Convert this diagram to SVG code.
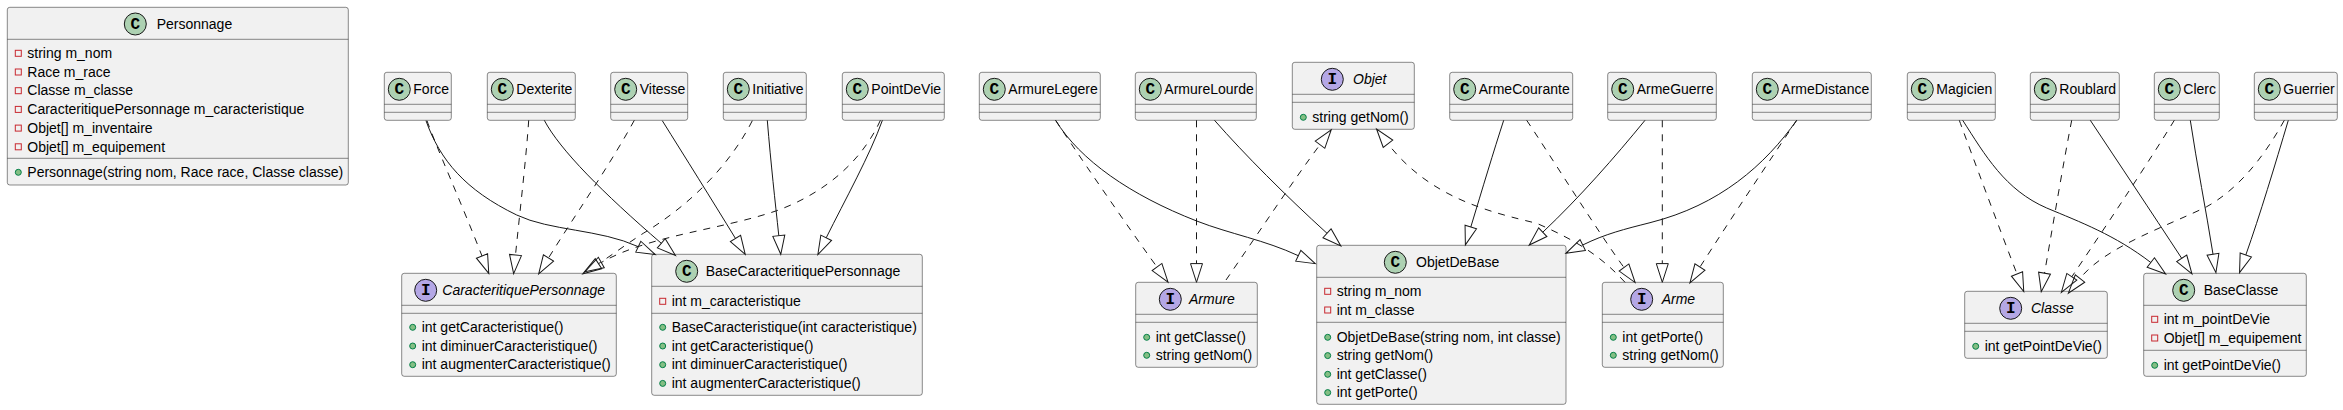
<svg xmlns="http://www.w3.org/2000/svg" width="2343" height="410" viewBox="0 0 2343 410">
<style>
text{font-family:"Liberation Sans",Arial,sans-serif;font-size:14px;fill:#000}
.i{font-style:italic}
.b{fill:#F1F1F1;stroke:#181818;stroke-width:.5}
.d{stroke:#181818;stroke-width:.5}
.cs{fill:#ADD1B2;stroke:#181818;stroke-width:1}
.is{fill:#B4A7E5;stroke:#181818;stroke-width:1}
text.s{font-family:"Liberation Mono",monospace;font-weight:bold;font-size:16px;text-anchor:middle}
.pr{fill:none;stroke:#C82930;stroke-width:1}
.pu{fill:#84BE84;stroke:#038048;stroke-width:1}
.l{fill:none;stroke:#181818;stroke-width:1;marker-end:url(#h)}
.da{stroke-dasharray:7 7}
</style>
<defs>
<marker id="h" markerUnits="userSpaceOnUse" markerWidth="22" markerHeight="16" refX="1" refY="8" orient="auto">
<polygon points="1,2 19.7,8 1,14" fill="none" stroke="#181818" stroke-width="1"/>
</marker>
</defs>
<g id="Personnage"><rect class="b" x="7.3" y="7.3" width="341" height="177.7" rx="2.5"/><line class="d" x1="7.3" y1="39.3" x2="348.3" y2="39.3"/><line class="d" x1="7.3" y1="158.3" x2="348.3" y2="158.3"/><circle class="cs" cx="135.3" cy="24" r="11"/><text class="s" x="135.3" y="29">C</text><text x="156.7" y="29">Personnage</text>
<rect class="pr" x="15.3" y="50.3" width="6" height="6"/><text x="27.3" y="58">string m_nom</text>
<rect class="pr" x="15.3" y="69" width="6" height="6"/><text x="27.3" y="76.7">Race m_race</text>
<rect class="pr" x="15.3" y="87.7" width="6" height="6"/><text x="27.3" y="95.4">Classe m_classe</text>
<rect class="pr" x="15.3" y="106.4" width="6" height="6"/><text x="27.3" y="114.1">CaracteritiquePersonnage m_caracteristique</text>
<rect class="pr" x="15.3" y="125.1" width="6" height="6"/><text x="27.3" y="132.8">Objet[] m_inventaire</text>
<rect class="pr" x="15.3" y="143.8" width="6" height="6"/><text x="27.3" y="151.5">Objet[] m_equipement</text>
<circle class="pu" cx="18.3" cy="172.3" r="3"/><text x="27.3" y="177">Personnage(string nom, Race race, Classe classe)</text></g>
<g id="Force"><rect class="b" x="384.3" y="72.3" width="67" height="48" rx="2.5"/><line class="d" x1="384.3" y1="104.3" x2="451.3" y2="104.3"/><line class="d" x1="384.3" y1="112.3" x2="451.3" y2="112.3"/><circle class="cs" cx="399.3" cy="89.3" r="11"/><text class="s" x="399.3" y="94.3">C</text><text x="413.3" y="94">Force</text></g>
<g id="Dexterite"><rect class="b" x="487.3" y="72.3" width="88" height="48" rx="2.5"/><line class="d" x1="487.3" y1="104.3" x2="575.3" y2="104.3"/><line class="d" x1="487.3" y1="112.3" x2="575.3" y2="112.3"/><circle class="cs" cx="502.3" cy="89.3" r="11"/><text class="s" x="502.3" y="94.3">C</text><text x="516.3" y="94">Dexterite</text></g>
<g id="Vitesse"><rect class="b" x="610.7" y="72.3" width="77" height="48" rx="2.5"/><line class="d" x1="610.7" y1="104.3" x2="687.7" y2="104.3"/><line class="d" x1="610.7" y1="112.3" x2="687.7" y2="112.3"/><circle class="cs" cx="625.7" cy="89.3" r="11"/><text class="s" x="625.7" y="94.3">C</text><text x="639.7" y="94">Vitesse</text></g>
<g id="Initiative"><rect class="b" x="723.3" y="72.3" width="83" height="48" rx="2.5"/><line class="d" x1="723.3" y1="104.3" x2="806.3" y2="104.3"/><line class="d" x1="723.3" y1="112.3" x2="806.3" y2="112.3"/><circle class="cs" cx="738.3" cy="89.3" r="11"/><text class="s" x="738.3" y="94.3">C</text><text x="752.3" y="94">Initiative</text></g>
<g id="PointDeVie"><rect class="b" x="842.3" y="72.3" width="102" height="48" rx="2.5"/><line class="d" x1="842.3" y1="104.3" x2="944.3" y2="104.3"/><line class="d" x1="842.3" y1="112.3" x2="944.3" y2="112.3"/><circle class="cs" cx="857.3" cy="89.3" r="11"/><text class="s" x="857.3" y="94.3">C</text><text x="871.3" y="94">PointDeVie</text></g>
<g id="ArmureLegere"><rect class="b" x="979.3" y="72.3" width="121" height="48" rx="2.5"/><line class="d" x1="979.3" y1="104.3" x2="1100.3" y2="104.3"/><line class="d" x1="979.3" y1="112.3" x2="1100.3" y2="112.3"/><circle class="cs" cx="994.3" cy="89.3" r="11"/><text class="s" x="994.3" y="94.3">C</text><text x="1008.3" y="94">ArmureLegere</text></g>
<g id="ArmureLourde"><rect class="b" x="1135.3" y="72.3" width="121" height="48" rx="2.5"/><line class="d" x1="1135.3" y1="104.3" x2="1256.3" y2="104.3"/><line class="d" x1="1135.3" y1="112.3" x2="1256.3" y2="112.3"/><circle class="cs" cx="1150.3" cy="89.3" r="11"/><text class="s" x="1150.3" y="94.3">C</text><text x="1164.3" y="94">ArmureLourde</text></g>
<g id="Objet"><rect class="b" x="1292.3" y="62.3" width="122" height="67" rx="2.5"/><line class="d" x1="1292.3" y1="94.3" x2="1414.3" y2="94.3"/><line class="d" x1="1292.3" y1="102.3" x2="1414.3" y2="102.3"/><circle class="is" cx="1332.3" cy="79.3" r="11"/><text class="s" x="1332.3" y="84.3">I</text><text class="i" x="1353" y="84">Objet</text><circle class="pu" cx="1303.3" cy="117.3" r="3"/><text x="1312.3" y="122">string getNom()</text></g>
<g id="ArmeCourante"><rect class="b" x="1449.7" y="72.3" width="123" height="48" rx="2.5"/><line class="d" x1="1449.7" y1="104.3" x2="1572.7" y2="104.3"/><line class="d" x1="1449.7" y1="112.3" x2="1572.7" y2="112.3"/><circle class="cs" cx="1464.7" cy="89.3" r="11"/><text class="s" x="1464.7" y="94.3">C</text><text x="1478.7" y="94">ArmeCourante</text></g>
<g id="ArmeGuerre"><rect class="b" x="1607.7" y="72.3" width="108.6" height="48" rx="2.5"/><line class="d" x1="1607.7" y1="104.3" x2="1716.3" y2="104.3"/><line class="d" x1="1607.7" y1="112.3" x2="1716.3" y2="112.3"/><circle class="cs" cx="1622.7" cy="89.3" r="11"/><text class="s" x="1622.7" y="94.3">C</text><text x="1636.7" y="94">ArmeGuerre</text></g>
<g id="ArmeDistance"><rect class="b" x="1752.3" y="72.3" width="119" height="48" rx="2.5"/><line class="d" x1="1752.3" y1="104.3" x2="1871.3" y2="104.3"/><line class="d" x1="1752.3" y1="112.3" x2="1871.3" y2="112.3"/><circle class="cs" cx="1767.3" cy="89.3" r="11"/><text class="s" x="1767.3" y="94.3">C</text><text x="1781.3" y="94">ArmeDistance</text></g>
<g id="Magicien"><rect class="b" x="1907.3" y="72.3" width="88" height="48" rx="2.5"/><line class="d" x1="1907.3" y1="104.3" x2="1995.3" y2="104.3"/><line class="d" x1="1907.3" y1="112.3" x2="1995.3" y2="112.3"/><circle class="cs" cx="1922.3" cy="89.3" r="11"/><text class="s" x="1922.3" y="94.3">C</text><text x="1936.3" y="94">Magicien</text></g>
<g id="Roublard"><rect class="b" x="2030.3" y="72.3" width="89" height="48" rx="2.5"/><line class="d" x1="2030.3" y1="104.3" x2="2119.3" y2="104.3"/><line class="d" x1="2030.3" y1="112.3" x2="2119.3" y2="112.3"/><circle class="cs" cx="2045.3" cy="89.3" r="11"/><text class="s" x="2045.3" y="94.3">C</text><text x="2059.3" y="94">Roublard</text></g>
<g id="Clerc"><rect class="b" x="2154.3" y="72.3" width="65" height="48" rx="2.5"/><line class="d" x1="2154.3" y1="104.3" x2="2219.3" y2="104.3"/><line class="d" x1="2154.3" y1="112.3" x2="2219.3" y2="112.3"/><circle class="cs" cx="2169.3" cy="89.3" r="11"/><text class="s" x="2169.3" y="94.3">C</text><text x="2183.3" y="94">Clerc</text></g>
<g id="Guerrier"><rect class="b" x="2254.3" y="72.3" width="83" height="48" rx="2.5"/><line class="d" x1="2254.3" y1="104.3" x2="2337.3" y2="104.3"/><line class="d" x1="2254.3" y1="112.3" x2="2337.3" y2="112.3"/><circle class="cs" cx="2269.3" cy="89.3" r="11"/><text class="s" x="2269.3" y="94.3">C</text><text x="2283.3" y="94">Guerrier</text></g>
<g id="CaracteritiquePersonnage"><rect class="b" x="401.7" y="273.3" width="214.6" height="103" rx="2.5"/><line class="d" x1="401.7" y1="305.3" x2="616.3" y2="305.3"/><line class="d" x1="401.7" y1="313.3" x2="616.3" y2="313.3"/><circle class="is" cx="425.7" cy="290.3" r="11"/><text class="s" x="425.7" y="295.3">I</text><text class="i" x="442.3" y="295">CaracteritiquePersonnage</text>
<circle class="pu" cx="412.7" cy="327.3" r="3"/><text x="421.7" y="332">int getCaracteristique()</text>
<circle class="pu" cx="412.7" cy="346" r="3"/><text x="421.7" y="350.7">int diminuerCaracteristique()</text>
<circle class="pu" cx="412.7" cy="364.7" r="3"/><text x="421.7" y="369.4">int augmenterCaracteristique()</text></g>
<g id="BaseCaracteritiquePersonnage"><rect class="b" x="651.7" y="254.3" width="270.6" height="141" rx="2.5"/><line class="d" x1="651.7" y1="286.3" x2="922.3" y2="286.3"/><line class="d" x1="651.7" y1="313.3" x2="922.3" y2="313.3"/><circle class="cs" cx="686.7" cy="271.3" r="11"/><text class="s" x="686.7" y="276.3">C</text><text x="705.7" y="276">BaseCaracteritiquePersonnage</text>
<rect class="pr" x="659.7" y="298.3" width="6" height="6"/><text x="671.7" y="306">int m_caracteristique</text>
<circle class="pu" cx="662.7" cy="327.3" r="3"/><text x="671.7" y="332">BaseCaracteristique(int caracteristique)</text>
<circle class="pu" cx="662.7" cy="346" r="3"/><text x="671.7" y="350.7">int getCaracteristique()</text>
<circle class="pu" cx="662.7" cy="364.7" r="3"/><text x="671.7" y="369.4">int diminuerCaracteristique()</text>
<circle class="pu" cx="662.7" cy="383.4" r="3"/><text x="671.7" y="388.1">int augmenterCaracteristique()</text></g>
<g id="Armure"><rect class="b" x="1135.7" y="282.3" width="121.6" height="85" rx="2.5"/><line class="d" x1="1135.7" y1="314.3" x2="1257.3" y2="314.3"/><line class="d" x1="1135.7" y1="322.3" x2="1257.3" y2="322.3"/><circle class="is" cx="1170.3" cy="299.3" r="11"/><text class="s" x="1170.3" y="304.3">I</text><text class="i" x="1189" y="304">Armure</text>
<circle class="pu" cx="1146.7" cy="337.3" r="3"/><text x="1155.7" y="342">int getClasse()</text>
<circle class="pu" cx="1146.7" cy="355.3" r="3"/><text x="1155.7" y="360">string getNom()</text></g>
<g id="ObjetDeBase"><rect class="b" x="1316.7" y="245.3" width="249.3" height="159" rx="2.5"/><line class="d" x1="1316.7" y1="277.3" x2="1566" y2="277.3"/><line class="d" x1="1316.7" y1="322.3" x2="1566" y2="322.3"/><circle class="cs" cx="1395.3" cy="262.3" r="11"/><text class="s" x="1395.3" y="267.3">C</text><text x="1416" y="267">ObjetDeBase</text>
<rect class="pr" x="1324.7" y="288.3" width="6" height="6"/><text x="1336.7" y="296">string m_nom</text>
<rect class="pr" x="1324.7" y="307" width="6" height="6"/><text x="1336.7" y="314.7">int m_classe</text>
<circle class="pu" cx="1327.7" cy="337.3" r="3"/><text x="1336.7" y="342">ObjetDeBase(string nom, int classe)</text>
<circle class="pu" cx="1327.7" cy="355.6" r="3"/><text x="1336.7" y="360.4">string getNom()</text>
<circle class="pu" cx="1327.7" cy="374.3" r="3"/><text x="1336.7" y="379">int getClasse()</text>
<circle class="pu" cx="1327.7" cy="392.6" r="3"/><text x="1336.7" y="397.4">int getPorte()</text></g>
<g id="Arme"><rect class="b" x="1602.3" y="282.3" width="121" height="85" rx="2.5"/><line class="d" x1="1602.3" y1="314.3" x2="1723.3" y2="314.3"/><line class="d" x1="1602.3" y1="322.3" x2="1723.3" y2="322.3"/><circle class="is" cx="1641.7" cy="299.3" r="11"/><text class="s" x="1641.7" y="304.3">I</text><text class="i" x="1661.7" y="304">Arme</text>
<circle class="pu" cx="1613.3" cy="337.3" r="3"/><text x="1622.3" y="342">int getPorte()</text>
<circle class="pu" cx="1613.3" cy="355.3" r="3"/><text x="1622.3" y="360">string getNom()</text></g>
<g id="Classe"><rect class="b" x="1964.7" y="291.3" width="142.6" height="67" rx="2.5"/><line class="d" x1="1964.7" y1="323.3" x2="2107.3" y2="323.3"/><line class="d" x1="1964.7" y1="331.3" x2="2107.3" y2="331.3"/><circle class="is" cx="2010.7" cy="308.3" r="11"/><text class="s" x="2010.7" y="313.3">I</text><text class="i" x="2031" y="313">Classe</text>
<circle class="pu" cx="1975.7" cy="346.3" r="3"/><text x="1984.7" y="351">int getPointDeVie()</text></g>
<g id="BaseClasse"><rect class="b" x="2143.7" y="273.3" width="162.6" height="103" rx="2.5"/><line class="d" x1="2143.7" y1="305.3" x2="2306.3" y2="305.3"/><line class="d" x1="2143.7" y1="350.3" x2="2306.3" y2="350.3"/><circle class="cs" cx="2183.7" cy="290.3" r="11"/><text class="s" x="2183.7" y="295.3">C</text><text x="2203.7" y="295">BaseClasse</text>
<rect class="pr" x="2151.7" y="316.3" width="6" height="6"/><text x="2163.7" y="324">int m_pointDeVie</text>
<rect class="pr" x="2151.7" y="335" width="6" height="6"/><text x="2163.7" y="342.7">Objet[] m_equipement</text>
<circle class="pu" cx="2154.7" cy="365.3" r="3"/><text x="2163.7" y="370">int getPointDeVie()</text></g>
<g id="connectors">
<path class="l da" d="M427,120.7C436,146 463,207 482,256"/>
<path class="l" d="M426,120.7C440,160 465,190 516.7,215C550,231 600,229 638.3,246.7"/>
<path class="l da" d="M528.7,120.3C526,160 520,210 515.5,255"/>
<path class="l" d="M544.3,120.3C560,150 603,193 661.3,243.3"/>
<path class="l da" d="M634.3,120.3C610,165 575,215 548.5,258"/>
<path class="l" d="M662.3,120.7C685,157 712,200 735.5,238.5"/>
<path class="l da" d="M752.3,120.7C730,165 690,205 643.3,233.3C628,243 612,255 598.5,263.7"/>
<path class="l da" d="M880.4,120.3C860,165 820,195 776.7,210.7C720,230 650,235 601.3,262.5"/>
<path class="l" d="M767.3,120.3C771,165 775,200 778.8,235.7"/>
<path class="l" d="M882.4,120.3C870,155 845,200 826.2,237.8"/>
<path class="l da" d="M1055.6,120.3C1075,150 1130,230 1157,267"/>
<path class="l" d="M1055.6,120.3C1080,160 1130,195 1196.7,221C1230,234 1265,240 1298.3,255.7"/>
<path class="l da" d="M1196.5,120.3L1196.5,263.6"/>
<path class="l" d="M1214.5,120.3C1245,155 1285,195 1327,233.3"/>
<path class="l da" d="M1226,280C1255,238 1295,178 1320,144.7"/>
<path class="l da" d="M1625,282.3C1600,255 1575,240 1536.7,223.3C1490,212 1430,198 1388,143.8"/>
<path class="l" d="M1503.7,120.3C1494,150 1482,190 1470.8,227"/>
<path class="l da" d="M1526.7,120.3C1550,155 1600,235 1624,267.5"/>
<path class="l" d="M1645,120.3C1615,157 1580,197 1542.8,232.2"/>
<path class="l da" d="M1662.3,120.3L1662.3,263.6"/>
<path class="l" d="M1796.7,120.3C1765,165 1720,205 1650,222.7C1625,229 1605,234 1582.7,245"/>
<path class="l da" d="M1796.7,120.3C1770,160 1730,220 1700,267"/>
<path class="l da" d="M1959.3,120.3C1972,155 2000,230 2017,274"/>
<path class="l" d="M1962.7,120.3C1985,155 2005,190 2046.7,208C2080,222 2115,235 2150.8,262.5"/>
<path class="l da" d="M2071.7,120.3C2063,165 2053,225 2044.5,273.2"/>
<path class="l" d="M2090.3,120.3C2120,165 2150,210 2181.7,258.3"/>
<path class="l da" d="M2174.3,120.3C2150,160 2110,220 2071.8,276.8"/>
<path class="l" d="M2190.3,120.3C2197,165 2206,210 2213,254.2"/>
<path class="l da" d="M2284.3,120.3C2265,155 2240,188 2206.7,206.7C2165,227 2105,247 2080,278.5"/>
<path class="l" d="M2288.3,120.3C2275,165 2260,215 2245.8,255"/>
</g>
</svg>
